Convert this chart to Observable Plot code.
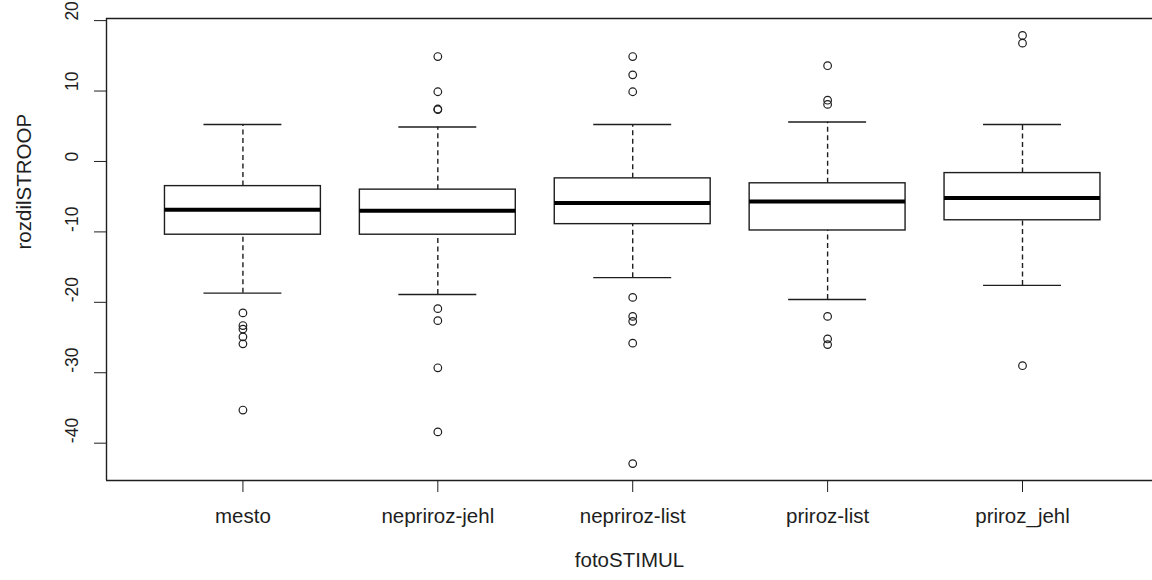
<!DOCTYPE html>
<html><head><meta charset="utf-8">
<script src="https://cdn.jsdelivr.net/npm/d3@7"></script>
<script src="https://cdn.jsdelivr.net/npm/@observablehq/plot@0.6"></script>
<style>body{margin:0;background:#fff;}</style>
</head><body><div id="chart"></div>
<script>
const categories = ["mesto", "nepriroz-jehl", "nepriroz-list", "priroz-list", "priroz_jehl"];
const whiskerLow  = [-18.7, -18.9, -16.5, -19.6, -17.6];
const q1          = [-10.4, -10.4, -8.9, -9.8, -8.35];
const median      = [-6.85, -7.0, -5.9, -5.7, -5.2];
const q3          = [-3.5, -4.0, -2.4, -3.1, -1.65];
const whiskerHigh = [5.25, 4.9, 5.25, 5.6, 5.25];
const outMesto        = [-21.5, -23.3, -23.8, -24.9, -25.9, -35.3];
const outNeprirozJehl = [14.9, 9.9, 7.45, 7.35, -20.9, -22.6, -29.3, -38.4];
const outNeprirozList = [14.9, 12.3, 9.9, -19.3, -22.0, -22.7, -25.8, -42.9];
const outPrirozList   = [13.6, 8.7, 8.1, -22.0, -25.2, -26.0];
const outPrirozJehl   = [17.9, 16.8, -29.0];
const yTicks = [-40, -30, -20, -10, 0, 10, 20];
const xLabel = "fotoSTIMUL";
const yLabel = "rozdilSTROOP";

const xDomain = [0.3, 5.667];
const yDomain = [-45.3, 20.3];

const boxes = categories.map((c, k) => ({
  i: k + 1, lo: whiskerLow[k], q1: q1[k], med: median[k], q3: q3[k], hi: whiskerHigh[k]
}));
const outlierLists = [outMesto, outNeprirozJehl, outNeprirozList, outPrirozList, outPrirozJehl];
const outliers = outlierLists.flatMap((arr, k) => arr.map(v => ({i: k + 1, v})));

const ink = "#1e1e1e";
const font = "'Liberation Sans', Arial, sans-serif";

const chart = Plot.plot({
  width: 1152,
  height: 580,
  marginLeft: 106,
  marginRight: 0,
  marginTop: 18,
  marginBottom: 100,
  style: {fontFamily: font, fontSize: "20.5px", color: ink, background: "#fff"},
  x: {domain: xDomain},
  y: {domain: yDomain},
  marks: [
    Plot.ruleY(yDomain, {stroke: ink, strokeWidth: 1.4}),
    Plot.ruleX([xDomain[0]], {stroke: ink, strokeWidth: 1.4}),
    Plot.ruleX(boxes, {x: "i", y1: "q3", y2: "hi", stroke: ink, strokeWidth: 1.4, strokeDasharray: "5,3.5"}),
    Plot.ruleX(boxes, {x: "i", y1: "lo", y2: "q1", stroke: ink, strokeWidth: 1.4, strokeDasharray: "5,3.5"}),
    Plot.ruleY(boxes, {y: "hi", x1: d => d.i - 0.2, x2: d => d.i + 0.2, stroke: ink, strokeWidth: 1.4}),
    Plot.ruleY(boxes, {y: "lo", x1: d => d.i - 0.2, x2: d => d.i + 0.2, stroke: ink, strokeWidth: 1.4}),
    Plot.rect(boxes, {x1: d => d.i - 0.4, x2: d => d.i + 0.4, y1: "q1", y2: "q3", fill: "white", stroke: ink, strokeWidth: 1.4}),
    Plot.ruleY(boxes, {y: "med", x1: d => d.i - 0.4, x2: d => d.i + 0.4, stroke: "#000", strokeWidth: 4}),
    Plot.dot(outliers, {x: "i", y: "v", r: 3.8, stroke: ink, fill: "none", strokeWidth: 1.2}),
    Plot.axisX({ticks: [1, 2, 3, 4, 5], tickSize: 12, tickPadding: 16, tickFormat: i => categories[i - 1], label: null, stroke: ink, fill: ink}),
    Plot.axisY({ticks: yTicks, tickSize: 12, tickFormat: () => "", label: null, stroke: ink}),
    Plot.text(yTicks, {y: d => d, frameAnchor: "left", dx: -34, rotate: -90, text: d => String(d), fontSize: 17.5, fill: ink}),
    Plot.text([yLabel], {frameAnchor: "left", dx: -82, rotate: -90, text: d => d, fontSize: 20.5, fill: ink}),
    Plot.text([xLabel], {frameAnchor: "bottom", dy: 86, text: d => d, fontSize: 20.5, fill: ink})
  ]
});
document.getElementById("chart").appendChild(chart);
</script>
</body></html>
